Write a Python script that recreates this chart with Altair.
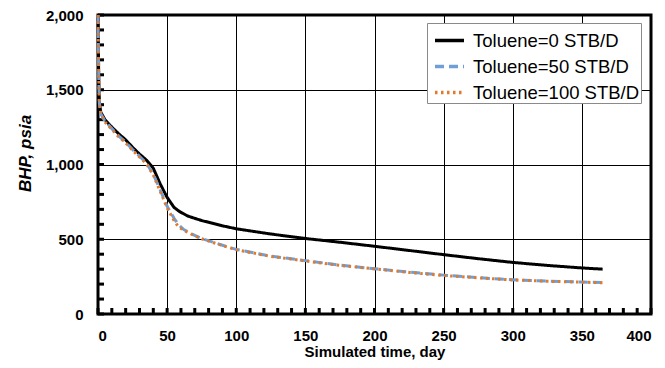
import altair as alt
import pandas as pd

# ---- data ----
series = ["Toluene=0 STB/D", "Toluene=50 STB/D", "Toluene=100 STB/D"]
colors = ["#000000", "#6f9fd6", "#e07b2e"]
dashes = [[1, 0], [9, 5], [2.5, 3.5]]

t_0 = [0, 0.5, 1, 2, 5, 10, 15, 20, 25, 30, 35, 40, 45, 50, 55, 59, 65, 75, 90, 100,
       125, 150, 175, 200, 225, 250, 275, 300, 325, 350, 365]
bhp_0 = [2000, 1600, 1420, 1350, 1300, 1250, 1205, 1165, 1115, 1070, 1030, 975, 870, 780, 713, 685,
         655, 625, 590, 570, 535, 505, 480, 453, 425, 397, 370, 345, 325, 308, 300]

t_50 = [0, 0.5, 1, 2, 5, 10, 15, 20, 25, 30, 35, 40, 45, 50, 55, 58, 62, 68, 75, 90, 100,
        125, 150, 175, 200, 225, 250, 275, 300, 325, 350, 365]
bhp_50 = [2000, 1600, 1410, 1340, 1290, 1240, 1190, 1150, 1100, 1055, 1010, 935, 830, 720, 640, 600,
          565, 535, 505, 460, 432, 387, 357, 327, 303, 280, 260, 243, 229, 220, 214, 210]

t_100 = [0, 0.5, 1, 2, 5, 10, 15, 20, 25, 30, 35, 40, 45, 50, 55, 58, 62, 68, 75, 90, 100,
         125, 150, 175, 200, 225, 250, 275, 300, 325, 350, 365]
bhp_100 = [2000, 1600, 1410, 1340, 1285, 1235, 1185, 1145, 1095, 1050, 1005, 930, 820, 710, 625, 585,
           560, 532, 503, 458, 430, 385, 355, 325, 302, 278, 258, 242, 228, 219, 213, 209]

x_ticks = list(range(0, 401, 50))
y_ticks = list(range(0, 2001, 500))
x_minor = list(range(0, 401, 10))
y_minor = list(range(0, 2001, 100))

rows = []
for name, ts, vs in [(series[0], t_0, bhp_0), (series[1], t_50, bhp_50), (series[2], t_100, bhp_100)]:
    for t, v in zip(ts, vs):
        rows.append({"t": t, "bhp": v, "series": name})
df = pd.DataFrame(rows)
df_xm = pd.DataFrame({"tm": x_minor})
df_ym = pd.DataFrame({"bm": y_minor})

FONT = "Liberation Sans"
W, H = 553, 299
TICK = 6

x_scale = alt.Scale(domain=[0, 400], nice=False, zero=False)
y_scale = alt.Scale(domain=[0, 2000], nice=False)

legend_kw = dict(title=None, orient="none", legendX=329, legendY=8,
                 fillColor="#ffffff", strokeColor="#8a8a8a", padding=1,
                 labelFont=FONT, labelFontSize=18.5, labelColor="#000000",
                 symbolType="stroke", symbolSize=841, symbolStrokeWidth=3.5,
                 symbolOffset=5, labelOffset=7, rowPadding=0, labelLimit=300)

x_axis = alt.Axis(values=x_ticks, grid=True, gridColor="#000000", gridWidth=1, gridOpacity=1,
                  domain=False, ticks=False, labelPadding=14, labelFontSize=15,
                  labelFontWeight="bold", labelFont=FONT, labelColor="#000000",
                  title="Simulated time, day", titleFont=FONT, titleFontSize=15,
                  titleFontWeight="bold", titleColor="#000000", titlePadding=1)
y_axis = alt.Axis(values=y_ticks, grid=True, gridColor="#000000", gridWidth=1, gridOpacity=1,
                  domain=False, ticks=False, labelPadding=15, labelFontSize=15,
                  labelFontWeight="bold", labelFont=FONT, labelColor="#000000",
                  format=",d", title="BHP, psia", titleFont=FONT, titleFontSize=17,
                  titleFontWeight="bold", titleFontStyle="italic", titleColor="#000000",
                  titlePadding=11, titleY=138)

x_minor_ticks = alt.Chart(df_xm).mark_rule(color="#000000", strokeWidth=3).encode(
    x=alt.X("tm:Q", scale=x_scale, axis=x_axis),
    y=alt.value(H - TICK), y2=alt.value(H),
)
y_minor_ticks = alt.Chart(df_ym).mark_rule(color="#000000", strokeWidth=3).encode(
    y=alt.Y("bm:Q", scale=y_scale, axis=y_axis),
    x=alt.value(0), x2=alt.value(TICK),
)

lines = alt.Chart(df).mark_line(strokeWidth=3, strokeJoin="round").encode(
    x=alt.X("t:Q", scale=x_scale, axis=x_axis),
    y=alt.Y("bhp:Q", scale=y_scale, axis=y_axis),
    color=alt.Color("series:N", scale=alt.Scale(domain=series, range=colors), sort=series,
                    legend=alt.Legend(**legend_kw)),
    strokeDash=alt.StrokeDash("series:N", scale=alt.Scale(domain=series, range=dashes), sort=series,
                              legend=alt.Legend(**legend_kw)),
    order=alt.Order("order:Q"),
).transform_calculate(order="indexof(['Toluene=0 STB/D','Toluene=50 STB/D','Toluene=100 STB/D'], datum.series)")

chart = alt.layer(x_minor_ticks, y_minor_ticks, lines).properties(
    width=W, height=H,
    padding={"left": 90, "top": 7, "right": 6, "bottom": 46},
    autosize=alt.AutoSizeParams(type="none"),
    background="#ffffff",
).configure_view(stroke="#000000", strokeWidth=3)

chart.save("out.html", embed_options={"renderer": "svg", "actions": False})
